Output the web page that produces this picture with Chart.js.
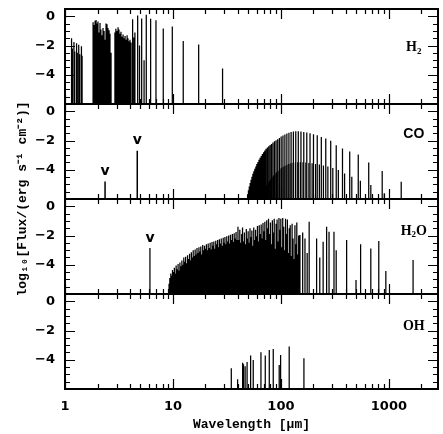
<!DOCTYPE html>
<html><head><meta charset="utf-8">
<script src="https://cdn.jsdelivr.net/npm/chart.js@4/dist/chart.umd.min.js"></script>
<style>html,body{margin:0;padding:0;background:#fff}canvas{display:block}</style>
</head><body>
<canvas id="c" width="443" height="434"></canvas>
<script>
// ---------- data (wavelength in micron, log10 flux) ----------
const xTickVals = [1, 10, 100, 1000];
const yTickVals = [0, -2, -4];
const xMin = 1, xMax = 2850, yMin = -6, yMax = 0.5;

const h2Wave = [1.15,1.17,1.21,1.23,1.28,1.30,1.34,1.37,1.42,1.44,
  1.82,1.84,1.86,1.90,1.92,1.94,1.98,2.00,2.02,2.06,2.08,2.11,2.13,2.15,2.20,2.23,2.25,2.28,2.30,2.35,2.38,2.40,2.45,2.48,2.50,2.56,2.58,2.61,2.67,
  2.90,2.96,3.03,3.10,3.16,3.23,3.30,3.37,3.45,3.52,3.60,3.68,3.76,3.83,3.92,4.00,4.09,
  4.23,4.35,4.44,4.71,4.90,5.13,5.40,5.66,6.21,6.96,8.13,9.86,12.45,17.3,28.8];
const h2Flux = [-1.5,-2.2,-1.75,-2.4,-1.85,-2.5,-1.95,-2.6,-2.05,-2.7,
  -0.4,-2.0,-0.6,-0.3,-1.8,-0.25,-0.5,-2.2,-0.35,-1.1,-1.9,-0.45,-2.4,-0.9,-1.3,-2.0,-0.8,-2.6,-1.0,-1.6,-2.3,-0.5,-0.55,-1.9,-0.8,-0.95,-2.4,-1.2,-2.5,
  -1.1,-0.85,-1.0,-0.75,-0.9,-1.2,-1.05,-1.4,-1.25,-1.5,-1.35,-1.6,-1.3,-1.5,-1.7,-1.6,-1.8,
  -0.2,-1.45,-1.1,0.05,-2.0,-0.15,-3.0,0.1,-0.16,-0.27,-0.84,-0.7,-1.69,-1.93,-3.57];

const coWave = [1300.4,867.0,650.3,520.2,433.6,371.7,325.2,289.1,260.2,236.6,216.9,200.3,186.0,173.6,162.8,153.3,144.8,137.2,130.4,124.2,
  118.6,113.5,108.8,104.4,100.5,96.8,93.4,90.2,87.2,84.4,81.8,79.4,77.1,74.9,72.8,70.9,69.1,67.3,65.7,64.1,
  62.6,61.2,59.8,58.6,57.3,56.1,55.0,53.9,52.9,51.9,50.9,50.0,49.1,48.2];
const coFlux = [-4.82,-4.09,-3.5,-2.95,-2.75,-2.54,-2.32,-2.02,-1.86,-1.75,-1.64,-1.57,-1.5,-1.45,-1.41,-1.38,-1.36,-1.36,-1.38,-1.41,
  -1.46,-1.52,-1.58,-1.65,-1.73,-1.82,-1.91,-1.98,-2.05,-2.14,-2.23,-2.31,-2.39,-2.47,-2.57,-2.68,-2.8,-2.92,-3.05,-3.18,
  -3.32,-3.46,-3.61,-3.77,-3.93,-4.1,-4.28,-4.47,-4.68,-4.9,-5.14,-5.4,-5.68,-5.95];
const co13Wave = [906.8,680.1,544.1,453.4,388.7,340.2,302.4,272.2,247.5,226.9,209.5,194.5,181.6,170.2,160.2,151.3,143.3,136.2,129.7,123.8,
  118.4,113.5,108.9,104.8,100.9,97.3,93.9,90.8,87.8,85.1,82.5,80.0,77.7,75.6,73.5,71.6,69.8,68.0,66.4,64.8,63.3];
const co13Flux = [-5.6,-5.05,-4.75,-4.48,-4.25,-4.02,-3.88,-3.78,-3.7,-3.64,-3.6,-3.56,-3.53,-3.5,-3.49,-3.48,-3.48,-3.5,-3.52,-3.56,
  -3.6,-3.66,-3.72,-3.8,-3.88,-3.97,-4.07,-4.17,-4.28,-4.4,-4.52,-4.65,-4.78,-4.92,-5.06,-5.2,-5.35,-5.5,-5.65,-5.8,-5.95];
const coVibWave = [2.35, 4.67];
const coVibFlux = [-4.8, -2.7];

const h2oWave = [9.2,9.35,9.55,9.7,9.9,10.1,10.3,10.5,10.7,10.9,11.15,11.35,11.6,11.85,
  12.1,12.35,12.6,12.85,13.1,13.4,13.65,13.95,14.25,14.5,14.8,15.1,15.4,15.75,16.05,16.4,16.7,17.05,17.4,17.75,18.1,18.5,18.85,19.25,19.6,
  20.0,20.4,20.8,21.2,21.7,22.1,22.5,23.0,23.5,23.9,24.4,24.9,25.4,25.9,26.4,26.9,27.5,28.0,28.6,29.2,29.7,30.3,30.9,31.5,32.2,32.8,33.5,34.1,34.8,35.5,36.2,36.9,37.7,38.4,39.2,
  40.0,40.8,41.6,42.4,43.3,44.1,45.0,45.9,46.8,47.8,48.7,49.7,50.7,51.7,52.7,53.8,54.9,56.0,57.1,58.2,59.4,60.6,61.8,63.0,64.3,65.6,66.9,68.2,69.6,71.0,72.4,73.9,75.3,76.8,78.4,
  80.0,81.6,83.3,85.0,86.7,88.5,90.3,92.1,94.0,95.9,97.9,99.8,101.8,103.9,106.0,108.1,110.3,112.5,114.8,117.1,119.5,121.9,124.4,126.9,129.5,132.1,134.8,137.5,140.3,143.1,146.0,
  150,159,167,175,182.6,214,229,246,265,279,310,325,406,496,547,680,806,937,1675];
const h2oFlux = [-5.3,-4.9,-4.6,-4.75,-4.35,-4.5,-4.2,-4.6,-4.05,-4.3,-3.95,-4.4,-3.85,-4.1,
  -3.7,-4.0,-3.5,-3.8,-3.45,-3.9,-3.35,-3.6,-3.25,-3.7,-3.15,-3.5,-3.0,-3.4,-2.95,-3.3,-2.85,-3.2,-2.8,-3.1,-2.75,-3.3,-2.65,-3.0,-2.7,
  -2.9,-2.6,-3.0,-2.55,-2.85,-2.5,-2.95,-2.45,-2.7,-2.4,-2.9,-2.35,-2.6,-2.3,-2.8,-2.25,-2.55,-2.2,-2.7,-2.15,-2.5,-2.1,-2.6,-2.05,-2.4,-2.0,-2.55,-1.95,-2.3,-1.9,-2.45,-1.85,-2.2,-1.75,-2.3,
  -1.4,-2.3,-1.6,-2.5,-1.9,-1.45,-2.4,-1.8,-2.6,-1.55,-2.2,-1.7,-2.5,-1.5,-2.1,-1.65,-2.7,-1.45,-2.3,-1.6,-2.05,-1.35,-2.4,-1.3,-1.9,-1.25,-2.2,-1.15,-1.7,-1.05,-2.3,-0.95,-1.5,-0.85,-1.9,
  -1.1,-2.6,-0.95,-1.8,-0.85,-2.9,-1.2,-0.9,-2.4,-0.8,-1.6,-0.85,-2.8,-0.8,-1.4,-3.0,-0.85,-1.9,-0.9,-3.2,-1.5,-1.3,-3.4,-1.2,-2.2,-3.6,-1.3,-2.6,-1.1,-3.3,-2.0,
  -1.97,-1.8,-2.2,-3.2,-1.06,-2.2,-3.5,-2.42,-1.4,-1.74,-1.74,-3.0,-2.31,-5.05,-2.6,-2.88,-2.38,-4.43,-3.68];
const h2oVibWave = [6.12];
const h2oVibFlux = [-2.85];

const ohWave = [34.7,39.7,44.2,45.0,46.6,48.6,52.4,55.4,65.3,71.6,78.0,84.9,96.4,99.3,119.3,163.3];
const ohFlux = [-4.58,-5.33,-4.2,-4.3,-4.45,-4.15,-3.71,-4.01,-3.49,-3.7,-3.33,-3.26,-4.35,-3.67,-3.1,-3.9];

const panelIds = ['y1', 'y2', 'y3', 'y4'];
const molNames = ['H2', 'CO', 'H2O', 'OH'];
const molLabelY = [-2.15, -1.56, -1.69, -1.75];
const molLabelX = 1700;

// ---------- build ----------
function sticks(w, f) {
  const out = [];
  for (let i = 0; i < w.length; i++) {
    out.push({x: w[i], y: yMin}, {x: w[i], y: f[i]}, {x: w[i], y: null});
  }
  return out;
}
function ds(w, f, axis, width) {
  return {data: sticks(w, f), yAxisID: axis, borderColor: '#000', borderWidth: width || 1.25,
    pointRadius: 0, spanGaps: false, tension: 0, fill: false};
}

const yTickFont = {family: 'DejaVu Sans', weight: 'bold', size: 13};
const yAxisWidth = 65 - (15.6 + 15);
function yAxis(w) {
  return {
    type: 'linear', position: 'left', stack: 'mol', stackWeight: 1, weight: w,
    min: yMin, max: yMax,
    afterBuildTicks: s => { s.ticks = yTickVals.map(v => ({value: v})); },
    afterFit: s => { s.width = yAxisWidth; s.paddingTop = 0; s.paddingBottom = 0; },
    grid: {display: false, drawTicks: false}, border: {display: false},
    ticks: {autoSkip: false, padding: 10, color: '#000', font: yTickFont,
      callback: v => v === 0 ? '0' : '\u2212' + Math.abs(v)}
  };
}

const framePlugin = {
  id: 'frame',
  afterDatasetsDraw(chart) {
    const {ctx, chartArea: ca, scales} = chart;
    const xs = scales.x;
    ctx.save();
    ctx.strokeStyle = '#000';
    panelIds.forEach(id => {
      const s = scales[id];
      const top = s.top, bot = s.bottom;
      ctx.lineWidth = 1.2;
      ctx.beginPath();
      for (const d of xTickVals) {
        for (let m = 1; m <= 9; m++) {
          const v = d * m;
          if (v > xMax) continue;
          const px = Math.round(xs.getPixelForValue(v)) + 0.5;
          const L = m === 1 ? 10 : 5;
          ctx.moveTo(px, top); ctx.lineTo(px, top + L);
          ctx.moveTo(px, bot); ctx.lineTo(px, bot - L);
        }
      }
      for (let k = 0; k <= 13; k++) {
        const v = yMin + k * 0.5;
        const py = Math.round(s.getPixelForValue(v)) + 0.5;
        const L = (Math.abs(v) % 2 === 0) ? 10 : 5;
        ctx.moveTo(ca.left, py); ctx.lineTo(ca.left + L, py);
        ctx.moveTo(ca.right, py); ctx.lineTo(ca.right - L, py);
      }
      ctx.stroke();
      ctx.lineWidth = 2;
      ctx.strokeRect(ca.left, top, ca.right - ca.left, bot - top);
    });
    ctx.restore();
  }
};

function drawMol(ctx, name, cx, cy, family) {
  const big = 'bold 14px ' + family, small = 'bold 9px ' + family;
  const parts = [];
  for (const ch of name) parts.push({t: ch, sub: /[0-9]/.test(ch)});
  let w = 0;
  parts.forEach(p => { ctx.font = p.sub ? small : big; p.w = ctx.measureText(p.t).width; w += p.w; });
  let x = cx - w / 2;
  ctx.textAlign = 'left'; ctx.textBaseline = 'middle';
  parts.forEach(p => { ctx.font = p.sub ? small : big; ctx.fillText(p.t, x, p.sub ? cy + 4 : cy); x += p.w; });
}

const labelPlugin = {
  id: 'labels',
  afterDatasetsDraw(chart) {
    const {ctx, scales} = chart;
    const xs = scales.x;
    ctx.save();
    ctx.fillStyle = '#000';
    panelIds.forEach((id, i) => {
      const fam = molNames[i] === 'CO' ? '"Liberation Sans"' : '"Liberation Serif"';
      drawMol(ctx, molNames[i], xs.getPixelForValue(molLabelX), scales[id].getPixelForValue(molLabelY[i]), fam);
    });
    ctx.font = 'bold 14px "DejaVu Sans"';
    ctx.textAlign = 'center'; ctx.textBaseline = 'middle';
    coVibWave.forEach((w, i) => ctx.fillText('v', xs.getPixelForValue(w), scales.y2.getPixelForValue(coVibFlux[i]) - 10));
    h2oVibWave.forEach((w, i) => ctx.fillText('v', xs.getPixelForValue(w), scales.y3.getPixelForValue(h2oVibFlux[i]) - 10));
    ctx.restore();
  }
};

new Chart(document.getElementById('c'), {
  type: 'line',
  data: {datasets: [
    ds(h2Wave, h2Flux, 'y1'),
    ds(coWave, coFlux, 'y2'),
    ds(co13Wave, co13Flux, 'y2'),
    ds(coVibWave, coVibFlux, 'y2', 1.5),
    ds(h2oWave, h2oFlux, 'y3'),
    ds(h2oVibWave, h2oVibFlux, 'y3'),
    ds(ohWave, ohFlux, 'y4')
  ]},
  options: {
    responsive: false, animation: false, devicePixelRatio: 1,
    layout: {padding: {top: 9, right: 5, bottom: 0, left: 0}},
    plugins: {
      legend: {display: false}, tooltip: {enabled: false},
      title: {display: true, position: 'left', fullSize: false,
        text: 'log\u2081\u2080[Flux/(erg s\u207b\u00b9 cm\u207b\u00b2)]',
        color: '#000', font: {family: '"Liberation Mono"', weight: 'bold', size: 13},
        padding: {top: 15, bottom: 0}}
    },
    scales: {
      x: {type: 'logarithmic', position: 'bottom', min: xMin, max: xMax,
        afterBuildTicks: s => { s.ticks = xTickVals.map(v => ({value: v})); },
        afterFit: s => { s.height = 45; s.paddingLeft = 0; s.paddingRight = 0; },
        grid: {display: false, drawTicks: false}, border: {display: false},
        ticks: {autoSkip: false, maxRotation: 0, padding: 10, color: '#000', font: yTickFont,
          callback: v => String(v)},
        title: {display: true, text: 'Wavelength [\u00b5m]', color: '#000',
          font: {family: '"Liberation Mono"', weight: 'bold', size: 13}, padding: {top: 0, bottom: 1}}
      },
      y1: yAxis(4), y2: yAxis(3), y3: yAxis(2), y4: yAxis(1)
    }
  },
  plugins: [framePlugin, labelPlugin]
});
</script>
</body></html>
